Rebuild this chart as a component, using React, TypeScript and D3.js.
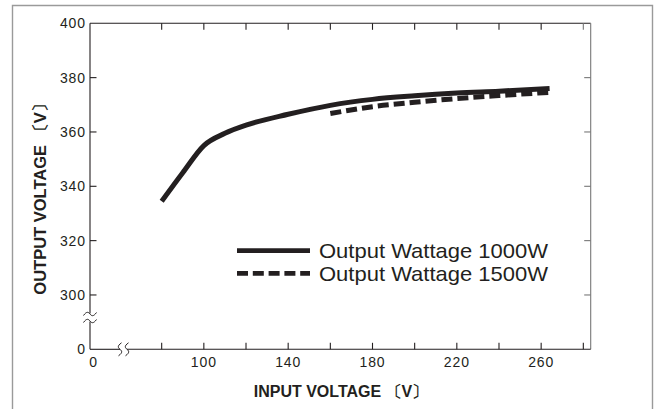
import React from 'react';
import * as d3 from 'd3';

// Output Wattage 1000W
const solidVin = [80, 90, 100, 110, 120, 140, 160, 180, 200, 220, 240, 264];
const solidVout = [334.5, 345, 355, 359.5, 362.5, 366.5, 369.8, 372, 373.3, 374.3, 375, 376];

// Output Wattage 1500W
const dashVin = [160, 180, 200, 220, 240, 264];
const dashVout = [366.8, 369.3, 370.9, 372.3, 373.4, 374.6];

const xTicks = [80, 100, 120, 140, 160, 180, 200, 220, 240, 260, 280];
const xTickLabels = [100, 140, 180, 220, 260];
const yTicks = [300, 320, 340, 360, 380];
const yTickLabels = [300, 320, 340, 360, 380, 400];

const legendLabels = ['Output Wattage 1000W', 'Output Wattage 1500W'];

const W = 659;
const H = 409;
const plot = { left: 90, right: 590.7, top: 23.3, bottom: 349.3 };

const ink = '#231f20';
const font = '"Liberation Sans", Arial, Helvetica, sans-serif';

const App = () => {
  // broken axes: the left/bottom ends stand for 0
  const x = d3.scaleLinear().domain([46, 283.5]).range([plot.left, plot.right]);
  const y = d3.scaleLinear().domain([280, 400]).range([plot.bottom, plot.top]);

  const line = d3.line<[number, number]>()
    .x(d => x(d[0]))
    .y(d => y(d[1]))
    .curve(d3.curveMonotoneX);

  const solidPath = line(solidVin.map((v, i) => [v, solidVout[i]]));
  const dashPath = line(dashVin.map((v, i) => [v, dashVout[i]]));

  const tick = 6.5;
  const yBreak = 317.5; // between 0 and 300
  const xBreak = 123.5; // between 0 and 80

  const tilde = (cx: number, cy: number, w: number) =>
    `M${cx - w / 2},${cy + 1.5} C${cx - w / 4},${cy - 3} ${cx - w / 8},${cy - 2} ${cx},${cy} S${cx + w / 4},${cy + 3} ${cx + w / 2},${cy - 1.5}`;
  const vtilde = (cx: number, cy: number, h: number) =>
    `M${cx + 1.5},${cy - h / 2} C${cx - 3},${cy - h / 4} ${cx - 2},${cy - h / 8} ${cx},${cy} S${cx + 3},${cy + h / 4} ${cx - 1.5},${cy + h / 2}`;

  const legendX0 = 237;
  const legendX1 = 310;
  const legendY = [250.7, 273.3];

  return (
    <svg width={W} height={H} style={{ position: 'absolute', left: 0, top: 0, background: '#fff' }}>
      {/* outer frame */}
      <path d={`M12.5,${H + 2} V5.5 H652.5 V${H + 2}`} fill="none" stroke="#9a9a9a" strokeWidth={1.4} />

      {/* axes */}
      <g stroke={ink} strokeWidth={1.1} fill="none">
        <line x1={plot.left} x2={plot.right} y1={plot.top} y2={plot.top} />
        <line x1={plot.right} x2={plot.right} y1={plot.top} y2={plot.bottom} stroke="#777" />
        <line x1={plot.left} x2={plot.left} y1={plot.top} y2={yBreak - 4} />
        <line x1={plot.left} x2={plot.left} y1={yBreak + 4} y2={plot.bottom} />
        <line x1={plot.left} x2={xBreak - 3.5} y1={plot.bottom} y2={plot.bottom} />
        <line x1={xBreak + 3.5} x2={plot.right} y1={plot.bottom} y2={plot.bottom} />
        <path d={tilde(plot.left, yBreak - 3.5, 13)} strokeWidth={1} />
        <path d={tilde(plot.left, yBreak + 3.5, 13)} strokeWidth={1} />
        <path d={vtilde(xBreak - 3.5, plot.bottom, 13)} strokeWidth={1} />
        <path d={vtilde(xBreak + 3.5, plot.bottom, 13)} strokeWidth={1} />
        {xTicks.map(t => (
          <g key={'xt' + t}>
            <line x1={x(t)} x2={x(t)} y1={plot.bottom} y2={plot.bottom - tick} />
            <line x1={x(t)} x2={x(t)} y1={plot.top} y2={plot.top + tick} stroke={t === 280 ? '#777' : ink} />
          </g>
        ))}
        {yTicks.map(t => (
          <g key={'yt' + t}>
            <line x1={plot.left} x2={plot.left + tick} y1={y(t)} y2={y(t)} />
            <line x1={plot.right} x2={plot.right - tick} y1={y(t)} y2={y(t)} stroke="#777" />
          </g>
        ))}
      </g>

      {/* tick labels */}
      <g fontFamily={font} fontSize={14} fill={ink} letterSpacing={0.9}>
        {yTickLabels.map(t => (
          <text key={'yl' + t} x={plot.left - 4} y={y(t)} dy="0.36em" textAnchor="end">{t}</text>
        ))}
        <text x={plot.left - 4} y={plot.bottom} dy="0.36em" textAnchor="end">0</text>
        {xTickLabels.map(t => (
          <text key={'xl' + t} x={x(t)} y={362} dy="0.36em" textAnchor="middle">{t}</text>
        ))}
        <text x={plot.left + 3.5} y={362} dy="0.36em" textAnchor="middle">0</text>
      </g>

      {/* curves */}
      <path d={solidPath ?? ''} fill="none" stroke={ink} strokeWidth={5} strokeLinejoin="round" />
      <path d={dashPath ?? ''} fill="none" stroke={ink} strokeWidth={5} strokeDasharray="11 5" />

      {/* legend */}
      <line x1={legendX0} x2={legendX1} y1={legendY[0]} y2={legendY[0]} stroke={ink} strokeWidth={4.8} />
      <line x1={legendX0} x2={legendX1} y1={legendY[1]} y2={legendY[1]} stroke={ink} strokeWidth={4.8} strokeDasharray="11 4.8" />
      {legendLabels.map((l, i) => (
        <text key={l} transform={`translate(319,${legendY[i]}) scale(1.1,1)`} dy="0.36em"
          fontFamily={font} fontSize={20} fill={ink}>{l}</text>
      ))}

      {/* axis titles */}
      <text transform="translate(40,195) rotate(-90)" dy="0.36em" textAnchor="middle"
        fontFamily={font} fontSize={16.5} fontWeight="bold" fill={ink}>
        OUTPUT VOLTAGE 〔V〕
      </text>
      <text x={341} y={391.5} dy="0.36em" textAnchor="middle"
        fontFamily={font} fontSize={16} fontWeight="bold" fill={ink}>
        INPUT VOLTAGE 〔V〕
      </text>
    </svg>
  );
};

export default App;
